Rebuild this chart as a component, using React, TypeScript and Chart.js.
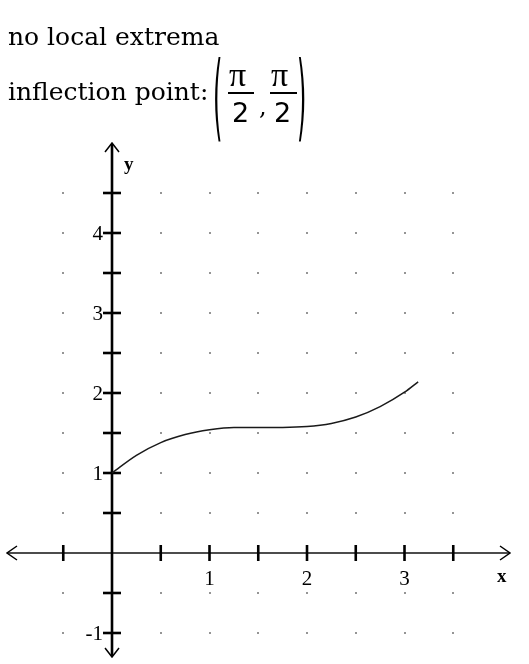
import React, { useRef, useEffect } from 'react';
import { Chart, registerables, ChartOptions, Plugin } from 'chart.js';

Chart.register(...registerables);

// curve
const curveX = [0, 0.25, 0.5, 0.75, 1, 1.25, 1.5, 1.75, 2, 2.25, 2.5, 2.75, 3, 3.14];
const curveY = [1, 1.22, 1.38, 1.48, 1.54, 1.57, 1.57, 1.57, 1.58, 1.62, 1.7, 1.83, 2.01, 2.14];

// ticks / dot grid / labels
const xTicks = [-0.5, 0.5, 1, 1.5, 2, 2.5, 3, 3.5];
const yTicks = [-1, -0.5, 0.5, 1, 1.5, 2, 2.5, 3, 3.5, 4, 4.5];
const xLabels = [1, 2, 3];
const yLabels = [-1, 1, 2, 3, 4];

const serif = '"Liberation Serif", "Times New Roman", serif';

const axesPlugin: Plugin<'line'> = {
  id: 'mathAxes',
  beforeDatasetsDraw(chart) {
    const { ctx, chartArea } = chart;
    const xs = chart.scales.x;
    const ys = chart.scales.y;
    const x0 = xs.getPixelForValue(0);
    const y0 = ys.getPixelForValue(0);
    const { left, right, top, bottom } = chartArea;

    ctx.save();

    // dot grid
    ctx.fillStyle = '#444';
    xTicks.forEach((xv) => {
      yTicks.forEach((yv) => {
        const px = Math.round(xs.getPixelForValue(xv));
        const py = Math.round(ys.getPixelForValue(yv));
        ctx.fillRect(px - 0.75, py - 0.75, 1.5, 1.5);
      });
    });

    // x axis
    ctx.strokeStyle = '#111';
    ctx.lineWidth = 1.6;
    ctx.beginPath();
    ctx.moveTo(left, y0);
    ctx.lineTo(right, y0);
    ctx.stroke();

    // y axis
    ctx.strokeStyle = '#000';
    ctx.lineWidth = 2.6;
    ctx.beginPath();
    ctx.moveTo(x0, top + 1);
    ctx.lineTo(x0, bottom - 1);
    ctx.stroke();

    // ticks
    ctx.lineWidth = 2.6;
    xTicks.forEach((xv) => {
      const px = xs.getPixelForValue(xv);
      ctx.beginPath();
      ctx.moveTo(px, y0 - 8);
      ctx.lineTo(px, y0 + 8);
      ctx.stroke();
    });
    yTicks.forEach((yv) => {
      const py = ys.getPixelForValue(yv);
      ctx.beginPath();
      ctx.moveTo(x0 - 9, py);
      ctx.lineTo(x0 + 9, py);
      ctx.stroke();
    });

    // arrow heads
    ctx.lineWidth = 1.5;
    ctx.strokeStyle = '#000';
    ctx.beginPath();
    ctx.moveTo(x0 - 7, top + 9);
    ctx.lineTo(x0, top);
    ctx.lineTo(x0 + 7, top + 9);
    ctx.moveTo(x0 - 7, bottom - 9);
    ctx.lineTo(x0, bottom);
    ctx.lineTo(x0 + 7, bottom - 9);
    ctx.moveTo(left + 10, y0 - 7);
    ctx.lineTo(left, y0);
    ctx.lineTo(left + 10, y0 + 7);
    ctx.moveTo(right - 10, y0 - 7);
    ctx.lineTo(right, y0);
    ctx.lineTo(right - 10, y0 + 7);
    ctx.stroke();

    // tick labels
    ctx.fillStyle = '#000';
    ctx.font = `21px ${serif}`;
    ctx.textAlign = 'center';
    ctx.textBaseline = 'alphabetic';
    xLabels.forEach((xv) => {
      ctx.fillText(String(xv), xs.getPixelForValue(xv), y0 + 32);
    });
    ctx.textAlign = 'right';
    ctx.textBaseline = 'middle';
    yLabels.forEach((yv) => {
      ctx.fillText(String(yv), x0 - 9, ys.getPixelForValue(yv) + 1);
    });

    // axis names
    ctx.font = `bold 19px ${serif}`;
    ctx.textAlign = 'left';
    ctx.textBaseline = 'alphabetic';
    ctx.fillText('y', x0 + 12, top + 27);
    ctx.fillText('x', right - 13, y0 + 29);

    ctx.restore();
  },
};

const dv = (size: number, baseline: number) => ({
  position: 'absolute' as const,
  top: baseline - 0.846 * size,
  fontSize: size,
  lineHeight: 1,
  whiteSpace: 'nowrap' as const,
});

const Header = () => {
  const text = { fontFamily: '"DejaVu Serif", serif', color: '#000' };
  const sans = { fontFamily: '"DejaVu Sans", sans-serif', color: '#000' };
  const times = { fontFamily: serif, color: '#000' };
  return (
    <div>
      <div style={{ ...text, ...dv(25, 45), left: 8 }}>no local extrema</div>
      <div style={{ ...text, ...dv(25, 100), left: 8 }}>inflection point:</div>
      <span
        style={{ ...sans, ...dv(24, 70), left: 213, transform: 'scaleY(3.9)', transformOrigin: '0 0', top: 51 }}
      >
        (
      </span>
      <span style={{ ...times, ...dv(34, 87), left: 229 }}>π</span>
      <div style={{ position: 'absolute', left: 228, top: 92, width: 26, height: 1.6, background: '#000' }} />
      <span style={{ ...sans, ...dv(27, 122), left: 232 }}>2</span>
      <span style={{ ...text, ...dv(24, 115), left: 259 }}>,</span>
      <span style={{ ...times, ...dv(34, 87), left: 271 }}>π</span>
      <div style={{ position: 'absolute', left: 270, top: 92, width: 27, height: 1.6, background: '#000' }} />
      <span style={{ ...sans, ...dv(27, 122), left: 274 }}>2</span>
      <span
        style={{ ...sans, ...dv(24, 70), left: 297, transform: 'scaleY(3.9)', transformOrigin: '0 0', top: 51 }}
      >
        )
      </span>
    </div>
  );
};

const App = () => {
  const chartRef = useRef<HTMLCanvasElement>(null);

  useEffect(() => {
    const ctx = chartRef.current?.getContext('2d');
    if (!ctx) return;

    const options: ChartOptions<'line'> = {
      responsive: true,
      maintainAspectRatio: false,
      animation: false,
      layout: { padding: { left: 7, right: 19, top: 143, bottom: 7 } },
      scales: {
        x: { type: 'linear', min: -1.077, max: 4.082, display: false },
        y: { type: 'linear', min: -1.3, max: 5.125, display: false },
      },
      plugins: {
        legend: { display: false },
        tooltip: { enabled: false },
      },
    };

    const myChart = new Chart(ctx, {
      type: 'line',
      data: {
        datasets: [
          {
            data: curveX.map((x, i) => ({ x, y: curveY[i] })),
            borderColor: '#1a1a1a',
            borderWidth: 1.5,
            pointRadius: 0,
            cubicInterpolationMode: 'monotone',
            fill: false,
          },
        ],
      },
      options,
      plugins: [axesPlugin],
    });

    return () => {
      myChart.destroy();
    };
  }, []);

  return (
    <div style={{ position: 'absolute', left: 0, top: 0, width: 529, height: 664, background: '#fff' }}>
      <div style={{ position: 'absolute', left: 0, top: 0, width: 529, height: 664 }}>
        <canvas ref={chartRef}></canvas>
      </div>
      <Header />
    </div>
  );
};

export default App;
